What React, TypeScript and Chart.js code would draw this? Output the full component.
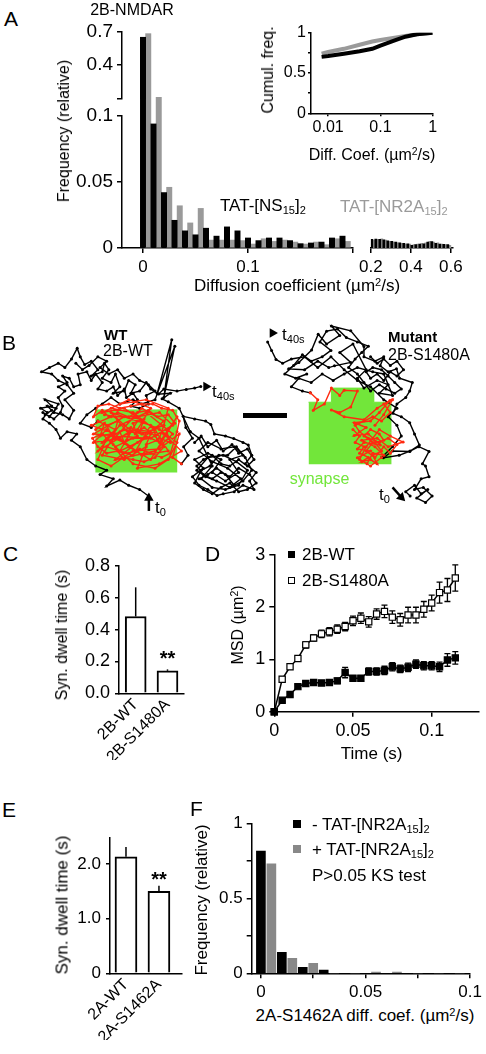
import React, { useEffect, useRef } from 'react';
import { Chart, registerables } from 'chart.js';

Chart.register(...registerables);
const FONT = "'Liberation Sans', Arial, Helvetica, sans-serif";
Chart.defaults.font.family = FONT;
Chart.defaults.font.size = 16;
Chart.defaults.color = '#000';

const BLACK = '#000000';
const GRAY_A = '#9a9a9a';
const GRAY_F = '#888888';
const GREEN = '#72e63a';
const RED = '#ff2a10';

// ---------------- Panel A : histogram of diffusion coefficients ----------------
const aBins = [0, 0.01, 0.02, 0.03, 0.04, 0.05, 0.06, 0.07, 0.08, 0.09, 0.1, 0.11, 0.12, 0.13, 0.14, 0.15, 0.16, 0.17, 0.18, 0.19];
const aNS15 = [0.648, 0.094, 0.042, 0.021, 0.013, 0.01, 0.015, 0.009, 0.016, 0.013, 0.0076, 0.0056, 0.0076, 0.0076, 0.0056, 0.0033, 0.0038, 0.0045, 0.0076, 0.009];
const aNR2A = [0.68, 0.115, 0.046, 0.032, 0.019, 0.03, 0.006, 0.006, 0.006, 0.0056, 0.003, 0.007, 0.005, 0.006, 0.0045, 0.003, 0.0045, 0.0025, 0.007, 0.005];
const aTailBins = [0.2, 0.22, 0.24, 0.26, 0.28, 0.3, 0.32, 0.34, 0.36, 0.38, 0.4, 0.42, 0.44, 0.46, 0.48, 0.5, 0.52, 0.54, 0.56, 0.58];
const aTailNS15 = [0.0066, 0.0068, 0.0066, 0.0062, 0.0055, 0.005, 0.0045, 0.004, 0.0035, 0.0032, 0.002, 0.0025, 0.003, 0.0032, 0.0045, 0.0048, 0.0035, 0.003, 0.0028, 0.0025];
const aTailNR2A = [0.006, 0.0065, 0.007, 0.006, 0.005, 0.0045, 0.004, 0.0035, 0.003, 0.003, 0.0025, 0.003, 0.0035, 0.004, 0.005, 0.0045, 0.004, 0.003, 0.0025, 0.002];
const aYUpperTicks = [0.1, 0.4, 0.7];
const aYLowerTicks = [0, 0.05, 0.1];
const aXTicks = [0, 0.1, 0.2];
const aXTailTicks = [0.2, 0.4, 0.6];

// inset: cumulative frequency
const cumX = [0.0075, 0.01, 0.02, 0.04, 0.07, 0.1, 0.2, 0.3, 0.5, 1];
const cumNS15 = [0.7, 0.71, 0.74, 0.77, 0.8, 0.84, 0.91, 0.95, 0.98, 1.0];
const cumNR2A = [0.74, 0.76, 0.8, 0.85, 0.89, 0.91, 0.94, 0.96, 0.98, 1.0];

// ---------------- Panel B : trajectories (µm) ----------------
const wtPathStart = [[3.25, 4.45], [3.05, 4.3], [2.8, 4.2], [2.6, 4.08], [2.3, 4.22], [2.45, 4.05], [2.15, 3.95], [2.3, 3.85], [2.05, 3.75], [1.85, 3.6], [1.7, 3.3], [1.5, 3.15], [1.62, 3.0], [1.4, 2.95], [1.25, 3.1], [1.15, 2.9], [1.0, 2.75], [0.85, 2.65], [0.95, 2.5], [0.8, 2.4], [1.05, 2.35], [0.9, 2.2], [1.2, 2.3], [1.1, 2.5], [1.3, 2.55], [1.45, 2.65], [1.55, 2.45], [1.35, 2.2], [1.55, 2.05], [1.4, 1.85], [1.2, 1.75], [1.05, 1.6], [0.82, 1.55], [1.0, 1.45], [1.2, 1.35], [1.35, 1.45], [1.5, 1.25], [1.63, 1.0], [1.7, 1.2], [1.8, 1.38], [1.95, 1.3], [2.1, 1.5], [1.95, 1.65], [2.2, 1.55], [2.25, 1.35], [2.35, 1.5], [2.2, 1.7], [2.4, 1.8], [2.5, 1.6], [2.6, 1.9], [2.45, 2.05], [2.7, 2.0], [2.8, 1.75], [2.95, 1.85], [2.85, 2.05], [3.05, 2.0], [3.2, 1.8], [3.3, 1.95], [3.45, 2.05], [3.78, 0.8], [3.6, 2.15], [3.85, 0.95], [3.4, 2.2], [3.1, 2.3], [2.9, 2.2], [2.6, 2.3], [2.4, 2.15], [2.2, 2.3], [2.05, 2.4], [1.85, 2.55], [1.7, 2.75], [1.95, 2.85], [2.1, 2.7]];
const wtPathUpper = [[0.9, 2.55], [1.05, 2.45], [0.95, 2.35], [1.15, 2.4], [1.0, 2.6], [0.85, 2.5], [1.1, 2.65], [1.25, 2.5], [1.3, 2.35], [1.2, 2.15], [1.35, 2.0], [1.2, 1.9], [1.4, 1.8], [1.3, 1.65], [1.45, 1.7], [1.55, 1.9], [1.7, 1.85], [1.65, 1.6], [1.85, 1.55], [1.95, 1.75], [2.05, 1.6], [2.2, 1.8], [2.1, 1.95], [2.3, 2.0], [2.45, 1.9], [2.55, 2.1], [2.7, 1.95], [2.75, 2.15], [2.9, 2.05], [3.0, 2.2], [2.85, 2.35], [3.05, 2.4], [3.25, 2.3], [3.2, 2.1], [3.4, 2.0], [3.25, 1.85], [3.05, 1.75], [2.9, 1.6], [2.7, 1.7], [2.55, 1.5], [2.35, 1.6], [2.15, 1.45], [2.3, 1.3], [2.1, 1.2], [1.9, 1.4], [1.75, 1.5], [1.6, 1.35]];
const wtPathSynapse = [[2.1, 2.7], [2.5, 2.9], [2.2, 3.2], [2.8, 3.0], [2.4, 2.5], [3.0, 2.7], [2.6, 3.4], [3.2, 3.1], [2.0, 3.0], [2.7, 2.6], [3.3, 2.8], [2.9, 3.5], [2.3, 3.3], [3.1, 2.4], [3.6, 2.7], [3.0, 3.2], [2.5, 3.6], [3.4, 3.4], [3.8, 3.0], [3.2, 2.5], [2.6, 2.8], [2.1, 3.4], [2.9, 2.9], [3.5, 3.2], [3.9, 2.6], [3.3, 3.6], [2.8, 3.3], [2.3, 2.9], [2.0, 3.2], [2.6, 3.1], [3.1, 3.5], [3.7, 3.4], [3.4, 2.9], [2.9, 2.5], [2.4, 2.4], [2.8, 2.2], [3.3, 2.4], [3.0, 2.9], [3.6, 3.0], [4.0, 3.4], [3.5, 3.7], [3.0, 3.8], [3.2, 3.3], [2.7, 3.6], [2.2, 3.5], [2.5, 3.0], [1.95, 2.8], [2.4, 2.6], [3.0, 2.6], [3.5, 2.5], [3.8, 2.8], [3.3, 3.1], [2.9, 3.1], [2.5, 3.3], [2.9, 3.7], [3.4, 3.8], [3.7, 3.6], [3.9, 3.2], [3.5, 2.9], [3.1, 2.7], [2.7, 2.4], [2.2, 2.5], [2.6, 2.3], [3.2, 2.2], [3.7, 2.4], [3.6, 2.8], [3.1, 3.0], [2.7, 2.9], [2.3, 3.1], [2.1, 3.6], [2.4, 3.75], [2.9, 3.4], [3.5, 3.35], [3.95, 3.0], [3.8, 3.55], [4.0, 3.7]];
const wtPathSynapse2 = [[2.05, 2.9], [2.25, 2.75], [2.15, 3.05], [2.4, 3.0], [2.3, 2.8], [2.55, 2.7], [2.45, 3.1], [2.7, 3.2], [2.6, 2.95], [2.85, 2.85], [2.75, 3.15], [3.0, 3.05], [2.9, 2.75], [3.15, 2.65], [3.05, 2.95], [3.3, 3.0], [3.2, 3.25], [3.45, 3.15], [3.35, 2.85], [3.6, 2.8], [3.5, 3.1], [3.75, 3.2], [3.65, 2.9], [3.85, 2.75], [3.7, 2.55], [3.45, 2.6], [3.25, 2.45], [3.0, 2.5], [2.8, 2.6], [2.55, 2.5], [2.35, 2.6], [2.2, 2.45], [2.0, 2.6], [2.1, 2.35], [2.35, 2.3], [2.6, 2.4], [2.85, 2.35], [3.1, 2.3], [3.35, 2.3], [3.55, 2.4], [3.8, 2.45], [3.95, 2.7], [3.9, 2.95], [3.75, 3.45], [3.55, 3.55], [3.3, 3.45], [3.05, 3.35], [2.8, 3.45], [2.55, 3.4], [2.3, 3.45], [2.1, 3.3], [1.98, 3.1], [2.2, 3.0], [2.45, 3.25], [2.65, 3.55], [2.9, 3.6], [3.15, 3.65], [3.4, 3.55], [3.6, 3.3], [3.4, 3.05], [3.15, 2.85], [2.95, 3.0], [2.7, 2.8], [2.5, 2.6], [2.25, 2.55]];
const wtPathCluster = [[4.0, 3.7], [4.15, 3.5], [4.05, 3.3], [4.25, 3.1], [4.1, 2.85], [4.04, 2.59], [4.3, 2.65], [4.55, 2.7], [4.67, 2.78], [4.75, 3.0], [5.0, 3.05], [5.19, 3.11], [5.4, 3.2], [5.52, 3.26], [5.6, 3.5], [5.45, 3.7], [5.7, 3.9], [5.55, 4.1], [5.65, 4.3], [5.4, 4.2], [5.2, 4.35], [4.95, 4.4], [4.81, 4.44], [4.6, 4.3], [4.4, 4.2], [4.25, 4.0], [4.5, 3.8], [4.3, 3.6], [4.6, 3.45], [4.9, 3.6], [4.7, 3.9], [5.0, 4.1], [5.3, 3.9], [5.1, 3.6], [5.4, 3.5], [5.2, 3.3], [4.9, 3.35], [4.6, 3.2], [4.4, 3.4], [4.7, 3.65], [5.05, 3.8], [5.35, 4.05], [5.1, 4.25], [4.8, 4.1], [4.55, 4.0], [4.35, 3.85], [4.6, 3.55], [4.95, 3.5], [5.25, 3.65], [5.5, 3.85], [5.3, 4.2], [5.0, 4.3], [4.7, 4.25], [4.45, 4.05], [4.7, 3.75], [4.4, 3.1], [4.2, 2.95]];
const wtPathCluster2 = [[4.3, 3.2], [4.45, 3.05], [4.6, 3.3], [4.8, 3.15], [4.95, 3.4], [5.15, 3.25], [5.3, 3.45], [5.5, 3.35], [5.65, 3.6], [5.5, 3.75], [5.3, 3.6], [5.1, 3.75], [4.9, 3.7], [4.7, 3.5], [4.5, 3.6], [4.35, 3.75], [4.5, 3.95], [4.7, 4.05], [4.9, 3.9], [5.1, 4.0], [5.3, 3.8], [5.55, 3.95], [5.7, 4.15], [5.5, 4.3], [5.3, 4.35], [5.1, 4.15], [4.9, 4.25], [4.7, 4.4], [4.5, 4.3], [4.3, 4.15], [4.45, 3.85], [4.65, 3.75], [4.85, 3.5], [5.05, 3.5], [5.25, 3.3], [5.45, 3.55], [5.6, 3.85], [5.4, 4.1], [5.2, 4.2], [5.0, 3.95], [4.8, 3.8], [4.6, 3.95], [4.4, 4.05]];
const wtPathEnd = [[4.2, 2.95], [3.95, 2.4], [3.7, 2.25], [3.56, 2.18], [3.75, 2.05], [3.48, 2.07], [3.6, 1.95], [3.9, 2.0], [4.11, 1.96], [4.3, 1.93], [4.44, 1.89]];
const mutPathStart = [[9.2, 4.45], [9.1, 4.35], [9.3, 4.2], [9.45, 4.4], [9.6, 4.3], [9.35, 4.5], [9.55, 4.6], [9.7, 4.45], [9.5, 4.25], [9.3, 4.3], [9.45, 4.05], [9.63, 4.0], [9.55, 3.75], [9.48, 3.7], [9.63, 3.41], [9.4, 3.3], [9.2, 3.4], [8.95, 3.5], [8.59, 3.56], [8.8, 3.4], [9.19, 3.41], [9.41, 3.26], [9.3, 3.0], [9.19, 2.74], [9.0, 2.6], [8.81, 2.52], [8.9, 2.3], [9.1, 2.15], [9.19, 2.0], [9.25, 1.8], [8.96, 1.7], [8.89, 1.48], [8.7, 1.55], [8.52, 1.41], [8.6, 1.2], [8.4, 1.3], [8.15, 1.2], [8.15, 0.96], [7.85, 0.59], [7.41, 0.48], [7.6, 0.7], [7.3, 0.9], [7.11, 0.67], [6.96, 1.04], [6.67, 1.33], [6.44, 1.48], [6.8, 1.5], [7.1, 1.3], [7.35, 1.45], [7.48, 1.41], [7.85, 1.33], [7.6, 1.1], [7.9, 0.9], [8.2, 1.5], [8.0, 1.7], [8.15, 1.93], [8.45, 1.75], [8.7, 1.85], [8.5, 2.05], [8.8, 2.1], [8.6, 1.6], [8.35, 1.55], [8.0, 1.45], [7.7, 1.6], [7.45, 1.75], [7.2, 1.6], [6.95, 1.8], [6.67, 1.7], [6.5, 1.9], [6.75, 2.0], [6.93, 2.04]];
const mutPathUpper = [[8.3, 1.2], [8.45, 1.35], [8.6, 1.25], [8.75, 1.4], [8.9, 1.3], [9.05, 1.5], [8.9, 1.65], [8.75, 1.55], [8.6, 1.75], [8.45, 1.6], [8.3, 1.7], [8.2, 1.55], [8.35, 1.45], [8.55, 1.5], [8.7, 1.65], [8.85, 1.8], [9.0, 1.95], [8.85, 2.05], [8.65, 1.95], [8.5, 1.85], [8.3, 2.0], [8.15, 1.8], [8.0, 1.6], [7.8, 1.45], [7.95, 1.25], [8.1, 1.1], [8.25, 0.95], [8.0, 0.85], [7.75, 0.75], [7.55, 0.55], [7.3, 0.6], [7.15, 0.85], [7.4, 1.05], [7.2, 1.2], [6.95, 1.3], [6.75, 1.15], [6.55, 1.4], [6.35, 1.6], [6.6, 1.7], [6.85, 1.6]];
const mutPathSynapse = [[6.93, 2.04], [7.1, 2.2], [7.0, 2.45], [7.25, 2.3], [7.41, 1.93], [7.6, 2.1], [7.7, 1.98], [8.0, 2.0], [7.85, 2.37], [7.6, 2.5], [7.41, 2.44], [7.7, 2.6], [8.15, 2.67], [8.45, 2.4], [8.74, 2.22], [8.5, 2.5], [8.3, 2.7], [7.93, 2.74], [8.2, 2.85], [7.93, 3.04], [8.25, 3.0], [8.52, 3.26], [8.15, 3.2], [8.0, 3.35], [8.3, 3.4], [8.0, 3.56], [8.22, 3.7], [8.35, 3.45], [8.6, 3.5], [8.4, 3.3], [8.1, 3.15], [8.45, 3.1], [8.7, 3.3], [9.04, 3.19], [8.75, 3.05], [8.5, 2.9], [8.2, 3.3], [8.05, 3.6], [8.3, 3.75], [8.55, 3.55]];
const mutPathSynapse2 = [[7.9, 2.9], [8.05, 3.05], [7.95, 3.2], [8.15, 3.3], [8.05, 3.45], [8.25, 3.55], [8.1, 3.65], [8.3, 3.6], [8.45, 3.7], [8.35, 3.5], [8.55, 3.4], [8.4, 3.2], [8.6, 3.15], [8.5, 3.0], [8.3, 2.9], [8.15, 3.05], [8.35, 3.2], [8.2, 3.4], [8.4, 3.55], [8.6, 3.3], [8.75, 3.45], [8.9, 3.25], [8.7, 3.1], [8.5, 3.2], [8.25, 3.1], [8.05, 2.95], [7.95, 2.8], [8.15, 2.7], [8.35, 2.6], [8.55, 2.7], [8.75, 2.5], [8.6, 2.3], [8.8, 2.2], [8.6, 2.55], [8.4, 2.8]];
const mutPathEnd = [[8.55, 3.55], [8.8, 3.3], [9.0, 3.05], [8.9, 2.8], [8.7, 2.6], [8.9, 2.4], [8.6, 2.2], [8.3, 1.9], [8.0, 1.75], [7.7, 1.5], [7.4, 1.2], [7.1, 1.45], [6.8, 1.2], [6.5, 1.25], [6.3, 1.35], [6.15, 1.26], [6.05, 1.05], [5.96, 0.85]];
const wtSynapseTop = [[2.04, 2.44], [3.91, 2.44]];
const wtSynapseBottom = 3.9;
const mutSynapseTop = [[6.89, 2.26], [7.41, 2.26], [7.41, 1.93], [8.37, 1.93], [8.37, 2.26], [8.78, 2.26]];
const mutSynapseBottom = 3.71;
const wtEndMark = [4.56, 1.89];
const wtStartArrow = [[3.26, 4.8], [3.26, 4.5]];
const mutEndMark = [6.07, 0.64];
const mutStartArrow = [[8.8, 4.25], [9.0, 4.48]];
const scaleBar = [[5.4, 2.57], [6.4, 2.57]]; // 1 µm

// ---------------- Panel C ----------------
const cLabels = ['2B-WT', '2B-S1480A'];
const cValues = [0.482, 0.141];
const cErrors = [0.183, 0.009];
const cTicks = [0, 0.2, 0.4, 0.6, 0.8];

// ---------------- Panel D : MSD ----------------
const msdTime = [0, 0.005, 0.01, 0.015, 0.02, 0.025, 0.03, 0.035, 0.04, 0.045, 0.05, 0.055, 0.06, 0.065, 0.07, 0.075, 0.08, 0.085, 0.09, 0.095, 0.1, 0.105, 0.11, 0.115];
const msdWT = [0, 0.22, 0.33, 0.48, 0.54, 0.56, 0.55, 0.56, 0.59, 0.75, 0.64, 0.64, 0.77, 0.77, 0.79, 0.86, 0.82, 0.85, 0.91, 0.88, 0.88, 0.86, 0.99, 1.03];
const msdWTErr = [0, 0.03, 0.03, 0.04, 0.04, 0.04, 0.04, 0.04, 0.05, 0.1, 0.05, 0.05, 0.07, 0.07, 0.08, 0.08, 0.07, 0.08, 0.08, 0.08, 0.08, 0.09, 0.12, 0.12];
const msdMut = [0, 0.62, 0.86, 1.02, 1.28, 1.41, 1.49, 1.53, 1.58, 1.63, 1.74, 1.79, 1.72, 1.87, 1.92, 1.81, 1.76, 1.85, 1.85, 1.96, 2.08, 2.28, 2.33, 2.56];
const msdMutErr = [0, 0.04, 0.05, 0.05, 0.06, 0.06, 0.07, 0.08, 0.08, 0.08, 0.09, 0.1, 0.1, 0.1, 0.12, 0.12, 0.12, 0.15, 0.15, 0.15, 0.15, 0.2, 0.22, 0.25];

// ---------------- Panel E ----------------
const eLabels = ['2A-WT', '2A-S1462A'];
const eValues = [2.13, 1.5];
const eErrors = [0.18, 0.1];

// ---------------- Panel F ----------------
const fBins = [0, 0.01, 0.02, 0.03, 0.04, 0.05, 0.06, 0.07, 0.08, 0.09];
const fMinus = [0.815, 0.14, 0.04, 0.022, 0, 0, 0, 0, 0, 0];
const fPlus = [0.73, 0.1, 0.067, 0, 0, 0.008, 0.008, 0, 0, 0];

// ---------------- helpers ----------------
type Box = [number, number, number, number];
type Area = [number, number, number, number];

function lay(box: Box, area: Area, hasY: boolean, hasX: boolean) {
  const [cx, cy, cw, ch] = box;
  const [L, T, R, B] = area;
  return {
    padding: { left: hasY ? 0 : L - cx, top: T - cy, right: cx + cw - R, bottom: hasX ? 0 : cy + ch - B },
    yW: L - cx,
    xH: cy + ch - B,
  };
}

function axis(o: any) {
  const s: any = {
    type: o.type || 'linear',
    min: o.min,
    max: o.max,
    display: true,
    offset: false,
    afterFit: (sc: any) => {
      if (o.horizontal) sc.height = o.fit;
      else sc.width = o.fit;
    },
    afterBuildTicks: (sc: any) => {
      sc.ticks = o.ticks.map((v: number) => ({ value: v }));
    },
    ticks: {
      autoSkip: false,
      callback: (_v: any, i: number) => o.labels[i],
      font: { size: o.size || 16, family: FONT },
      color: BLACK,
      padding: o.pad ?? 4,
      maxRotation: o.rot || 0,
      minRotation: o.rot || 0,
    },
    grid: {
      display: true,
      offset: false,
      drawOnChartArea: false,
      drawTicks: (o.tick ?? 5) > 0,
      tickLength: o.tick ?? 5,
      color: BLACK,
      lineWidth: 1.5,
    },
    border: { display: true, color: BLACK, width: 1.5 },
  };
  return s;
}

function hiddenAxis(min: number, max: number, reverse = false) {
  return { type: 'linear', min, max, reverse, display: false, offset: false, grid: { offset: false } };
}

function baseOptions(padding: any, scales: any) {
  return {
    responsive: false,
    maintainAspectRatio: false,
    animation: false,
    devicePixelRatio: 1,
    events: [],
    layout: { padding },
    plugins: { legend: { display: false }, tooltip: { enabled: false }, title: { display: false } },
    scales,
  };
}

function drawErrors(chart: any, when: string) {
  const ctx = chart.ctx;
  chart.data.datasets.forEach((ds: any, i: number) => {
    if (!ds.errors || (ds.errWhen || 'after') !== when) return;
    const meta = chart.getDatasetMeta(i);
    const ys = chart.scales[meta.yAxisID];
    ctx.save();
    ctx.strokeStyle = BLACK;
    ctx.lineWidth = ds.errWidth || 1.5;
    meta.data.forEach((el: any, j: number) => {
      const e = ds.errors[j];
      if (!e) return;
      const raw = ds.data[j];
      const v = typeof raw === 'number' ? raw : raw.y;
      const top = ys.getPixelForValue(v + e);
      const bot = ds.errUpOnly ? el.y : ys.getPixelForValue(v - e);
      const c = ds.errCap || 0;
      ctx.beginPath();
      ctx.moveTo(el.x, bot);
      ctx.lineTo(el.x, top);
      if (c) {
        ctx.moveTo(el.x - c, top);
        ctx.lineTo(el.x + c, top);
        if (!ds.errUpOnly) {
          ctx.moveTo(el.x - c, bot);
          ctx.lineTo(el.x + c, bot);
        }
      }
      ctx.stroke();
    });
    ctx.restore();
  });
}

const errorBarPlugin = {
  id: 'errorBarsCustom',
  beforeDatasetsDraw(chart: any) {
    drawErrors(chart, 'before');
  },
  afterDatasetsDraw(chart: any) {
    drawErrors(chart, 'after');
  },
};

function histDs(xs: number[], ys: number[], offset: number, color: string, thick: number) {
  return {
    type: 'bar',
    data: xs.map((x, i) => ({ x: x + offset, y: ys[i] })),
    backgroundColor: color,
    borderWidth: 0,
    barThickness: thick,
    grouped: false,
    clip: { left: 0, right: 0, top: false, bottom: 0 },
  };
}

function pathDs(pts: number[][], color: string, order: number) {
  return {
    type: 'line',
    data: pts.map((p) => ({ x: p[0], y: p[1] })),
    borderColor: color,
    backgroundColor: color,
    borderWidth: 1.4,
    pointRadius: 1.5,
    pointBackgroundColor: color,
    pointBorderWidth: 0,
    tension: 0,
    fill: false,
    order,
    clip: false,
  };
}

function areaDs(pts: number[][], bottom: number) {
  return {
    type: 'line',
    data: pts.map((p) => ({ x: p[0], y: p[1] })),
    borderColor: GREEN,
    borderWidth: 1,
    backgroundColor: GREEN,
    pointRadius: 0,
    tension: 0,
    fill: { value: bottom },
    order: 10,
  };
}

function markDs(pt: number[], rot: number) {
  return {
    type: 'line',
    data: [{ x: pt[0], y: pt[1] }],
    showLine: false,
    pointStyle: 'triangle',
    pointRotation: rot,
    pointRadius: 5.5,
    pointBackgroundColor: BLACK,
    pointBorderColor: BLACK,
    pointBorderWidth: 0,
    order: 0,
    clip: false,
  };
}

function segDs(pts: number[][], width: number) {
  return {
    type: 'line',
    data: pts.map((p) => ({ x: p[0], y: p[1] })),
    borderColor: BLACK,
    borderWidth: width,
    pointRadius: 0,
    tension: 0,
    fill: false,
    order: 0,
    clip: false,
  };
}

// ---------------- chart boxes (canvas position) and plot areas ----------------
const AU_BOX: Box = [50, 16, 315, 112];
const AU_AREA: Area = [122, 30, 353, 99];
const AL_BOX: Box = [50, 99, 315, 191];
const AL_AREA: Area = [122, 116, 353, 248];
const AT_BOX: Box = [355, 99, 115, 191];
const AT_AREA: Area = [368.3, 116, 452.8, 248];
const AI_BOX: Box = [268, 18, 182, 122];
const AI_AREA: Area = [311, 32.7, 432.7, 113.3];
const B_BOX: Box = [0, 300, 486, 225];
const C_BOX: Box = [60, 550, 140, 210];
const C_AREA: Area = [119, 565, 183.3, 693.3];
const D_BOX: Box = [240, 540, 246, 205];
const D_AREA: Area = [274.3, 555, 478.9, 711.7];
const E_BOX: Box = [50, 822, 150, 218];
const E_AREA: Area = [110, 837.7, 181.7, 973.3];
const F_BOX: Box = [215, 808, 271, 192];
const F_AREA: Area = [251.7, 823.3, 471.7, 973.3];

function aUpperConfig() {
  const l = lay(AU_BOX, AU_AREA, true, false);
  return {
    type: 'bar',
    data: { datasets: [histDs(aBins, aNS15, 0, BLACK, 5.3), histDs(aBins, aNR2A, 0.005, GRAY_A, 5.3)] },
    options: baseOptions(l.padding, {
      x: hiddenAxis(-0.02, 0.2),
      y: axis({ min: 0.1, max: 0.7, ticks: aYUpperTicks, labels: ['', '0.4', '0.7'], fit: l.yW, size: 19 }),
    }),
  };
}

function aLowerConfig() {
  const l = lay(AL_BOX, AL_AREA, true, true);
  return {
    type: 'bar',
    data: { datasets: [histDs(aBins, aNS15, 0, BLACK, 5.3), histDs(aBins, aNR2A, 0.005, GRAY_A, 5.3)] },
    options: baseOptions(l.padding, {
      x: axis({ min: -0.02, max: 0.2, ticks: aXTicks, labels: ['0', '0.1', ''], fit: l.xH, horizontal: true, size: 17 }),
      y: axis({ min: 0, max: 0.1, ticks: aYLowerTicks, labels: ['0', '0.05', '0.1'], fit: l.yW, size: 19 }),
    }),
  };
}

function aTailConfig() {
  const l = lay(AT_BOX, AT_AREA, false, true);
  return {
    type: 'bar',
    data: { datasets: [histDs(aTailBins, aTailNS15, 0.005, BLACK, 2.1), histDs(aTailBins, aTailNR2A, 0.015, GRAY_A, 2.1)] },
    options: baseOptions(l.padding, {
      x: axis({ min: 0.2, max: 0.61, ticks: aXTailTicks, labels: ['0.2', '0.4', '0.6'], fit: l.xH, horizontal: true, size: 17 }),
      y: hiddenAxis(0, 0.1),
    }),
  };
}

function aInsetConfig() {
  const l = lay(AI_BOX, AI_AREA, true, true);
  const line = (ys: number[], color: string) => ({
    type: 'line',
    data: cumX.map((x, i) => ({ x, y: ys[i] })),
    borderColor: color,
    borderWidth: 4,
    pointRadius: 0,
    tension: 0,
    fill: false,
  });
  return {
    type: 'line',
    data: { datasets: [line(cumNS15, BLACK), line(cumNR2A, GRAY_A)] },
    options: baseOptions(l.padding, {
      x: axis({ type: 'logarithmic', min: 0.0047, max: 1, ticks: [0.01, 0.1, 1], labels: ['0.01', '0.1', '1'], fit: l.xH, horizontal: true, tick: 3, pad: 2, size: 16 }),
      y: axis({ min: 0, max: 1, ticks: [0, 0.25, 0.5, 0.75, 1], labels: ['0', '', '0.5', '', '1'], fit: l.yW, tick: 3, pad: 2, size: 16 }),
    }),
  };
}

function bConfig() {
  return {
    type: 'line',
    data: {
      datasets: [
        markDs(wtEndMark, 90),
        markDs([wtStartArrow[1][0], wtStartArrow[1][1]], 0),
        segDs(wtStartArrow, 2.5),
        markDs(mutEndMark, 90),
        markDs([mutStartArrow[1][0], mutStartArrow[1][1]], 135),
        segDs(mutStartArrow, 2.5),
        segDs(scaleBar, 5),
        pathDs(wtPathSynapse, RED, 1),
        pathDs(wtPathSynapse2, RED, 1),
        pathDs(mutPathSynapse, RED, 1),
        pathDs(mutPathSynapse2, RED, 1),
        pathDs(wtPathStart, BLACK, 2),
        pathDs(wtPathUpper, BLACK, 2),
        pathDs(wtPathCluster, BLACK, 2),
        pathDs(wtPathCluster2, BLACK, 2),
        pathDs(wtPathEnd, BLACK, 2),
        pathDs(mutPathStart, BLACK, 2),
        pathDs(mutPathUpper, BLACK, 2),
        pathDs(mutPathEnd, BLACK, 2),
        areaDs(wtSynapseTop, wtSynapseBottom),
        areaDs(mutSynapseTop, mutSynapseBottom),
      ],
    },
    options: baseOptions({ left: 0, top: 0, right: 0, bottom: 0 }, {
      x: hiddenAxis(0, 10.8),
      y: hiddenAxis(0, 5, true),
    }),
  };
}

function barPanelConfig(box: Box, area: Area, labels: string[], values: number[], errors: number[], xmin: number, xmax: number, ymax: number, yTicks: number[], yLabels: string[], thick: number, ySize: number) {
  const l = lay(box, area, true, true);
  return {
    type: 'bar',
    data: {
      datasets: [
        {
          type: 'bar',
          data: values.map((v, i) => ({ x: i + 1, y: v })),
          backgroundColor: '#ffffff',
          borderColor: BLACK,
          borderWidth: 2,
          borderSkipped: 'start',
          barThickness: thick,
          grouped: false,
          errors,
          errUpOnly: true,
          errWhen: 'after',
        },
      ],
    },
    options: baseOptions(l.padding, {
      x: axis({ min: xmin, max: xmax, ticks: [1, 2], labels, fit: l.xH, horizontal: true, rot: 45, tick: 0, pad: 2, size: 16 }),
      y: axis({ min: 0, max: ymax, ticks: yTicks, labels: yLabels, fit: l.yW, tick: 4, pad: 5, size: ySize }),
    }),
    plugins: [errorBarPlugin],
  };
}

function dConfig() {
  const l = lay(D_BOX, D_AREA, true, true);
  const series = (ys: number[], errs: number[], fillColor: string) => ({
    type: 'line',
    data: msdTime.map((t, i) => ({ x: t, y: ys[i] })),
    borderColor: BLACK,
    borderWidth: 1.5,
    pointStyle: 'rect',
    pointRadius: 4.4,
    pointBackgroundColor: fillColor,
    pointBorderColor: BLACK,
    pointBorderWidth: 1.2,
    tension: 0,
    fill: false,
    clip: false,
    errors: errs,
    errCap: 3,
    errWidth: 1.3,
    errWhen: 'before',
  });
  return {
    type: 'line',
    data: { datasets: [series(msdWT, msdWTErr, BLACK), series(msdMut, msdMutErr, '#ffffff')] },
    options: baseOptions(l.padding, {
      x: axis({ min: 0, max: 0.13, ticks: [0, 0.05, 0.1], labels: ['0', '0.05', '0.1'], fit: l.xH, horizontal: true, size: 18 }),
      y: axis({ min: 0, max: 3, ticks: [0, 1, 2, 3], labels: ['0', '1', '2', '3'], fit: l.yW, size: 18 }),
    }),
    plugins: [errorBarPlugin],
  };
}

function fConfig() {
  const l = lay(F_BOX, F_AREA, true, true);
  return {
    type: 'bar',
    data: { datasets: [histDs(fBins, fMinus, 0, BLACK, 9), histDs(fBins, fPlus, 0.005, GRAY_F, 9)] },
    options: baseOptions(l.padding, {
      x: axis({ min: -0.0044, max: 0.1, ticks: [0, 0.025, 0.05, 0.075, 0.1], labels: ['0', '', '0.05', '', '0.1'], fit: l.xH, horizontal: true, size: 17 }),
      y: axis({ min: 0, max: 1, ticks: [0, 0.25, 0.5, 0.75, 1], labels: ['0', '', '0.5', '', '1'], fit: l.yW, size: 17 }),
    }),
  };
}

// ---------------- components ----------------
function ChartBox({ box, make }: { box: Box; make: () => any }) {
  const ref = useRef<HTMLCanvasElement>(null);
  useEffect(() => {
    const chart = new Chart(ref.current as HTMLCanvasElement, make());
    return () => chart.destroy();
  }, []);
  return (
    <canvas
      ref={ref}
      width={box[2]}
      height={box[3]}
      style={{ position: 'absolute', left: box[0], top: box[1], width: box[2], height: box[3] }}
    />
  );
}

const Sub = ({ children }: any) => (
  <span style={{ fontSize: '0.65em', position: 'relative', top: '0.3em' }}>{children}</span>
);
const Sup = ({ children }: any) => (
  <span style={{ fontSize: '0.65em', position: 'relative', top: '-0.45em' }}>{children}</span>
);

function Txt({ x, y, size = 16, a = 'l', rot = 0, bold = false, color = BLACK, children }: any) {
  const tx = a === 'c' ? '-50%' : a === 'r' ? '-100%' : '0%';
  return (
    <div
      style={{
        position: 'absolute',
        left: x,
        top: y,
        transform: `translate(${tx}, -50%)${rot ? ` rotate(${rot}deg)` : ''}`,
        fontSize: size,
        fontWeight: bold ? 'bold' : 'normal',
        color,
        whiteSpace: 'nowrap',
        lineHeight: 1,
        fontFamily: FONT,
      }}
    >
      {children}
    </div>
  );
}

function Square({ x, y, s, fill, border }: any) {
  return (
    <div
      style={{
        position: 'absolute',
        left: x,
        top: y,
        width: s,
        height: s,
        boxSizing: 'border-box',
        background: fill,
        border: border ? `1.3px solid ${BLACK}` : 'none',
      }}
    />
  );
}

export default function App() {
  return (
    <div style={{ position: 'absolute', left: 0, top: 0, width: 486, height: 1054, background: '#fff', overflow: 'hidden', fontFamily: FONT }}>
      {/* Panel A */}
      <ChartBox box={AU_BOX} make={aUpperConfig} />
      <ChartBox box={AL_BOX} make={aLowerConfig} />
      <ChartBox box={AT_BOX} make={aTailConfig} />
      <ChartBox box={AI_BOX} make={aInsetConfig} />
      <Txt x={4} y={18} size={21}>A</Txt>
      <Txt x={132} y={10} a="c" size={16}>2B-NMDAR</Txt>
      <Txt x={64} y={131} a="c" rot={-90} size={16}>Frequency (relative)</Txt>
      <Txt x={297} y={285} a="c" size={17}>Diffusion coefficient (µm<Sup>2</Sup>/s)</Txt>
      <Txt x={220} y={205} size={17}>TAT-[NS<Sub>15</Sub>]<Sub>2</Sub></Txt>
      <Txt x={340} y={206} size={17} color={GRAY_A}>TAT-[NR2A<Sub>15</Sub>]<Sub>2</Sub></Txt>
      <Txt x={268} y={70} a="c" rot={-90} size={16}>Cumul. freq.</Txt>
      <Txt x={372} y={155} a="c" size={16}>Diff. Coef. (µm<Sup>2</Sup>/s)</Txt>

      {/* Panel B */}
      <ChartBox box={B_BOX} make={bConfig} />
      <Txt x={2} y={342} size={21}>B</Txt>
      <Txt x={104} y={334} size={15} bold>WT</Txt>
      <Txt x={103} y={351} size={16}>2B-WT</Txt>
      <Txt x={212} y={391} size={17}>t<Sub>40s</Sub></Txt>
      <Txt x={155} y={507} size={17}>t<Sub>0</Sub></Txt>
      <Txt x={388} y={336} size={15} bold>Mutant</Txt>
      <Txt x={388} y={355} size={16}>2B-S1480A</Txt>
      <Txt x={282} y={334} size={17}>t<Sub>40s</Sub></Txt>
      <Txt x={379} y={494} size={17}>t<Sub>0</Sub></Txt>
      <Txt x={319.5} y={478.5} a="c" size={16} color={GREEN}>synapse</Txt>

      {/* Panel C */}
      <ChartBox box={C_BOX} make={() => barPanelConfig(C_BOX, C_AREA, cLabels, cValues, cErrors, 0.475, 2.497, 0.8, cTicks, ['0.0', '0.2', '0.4', '0.6', '0.8'], 21, 18)} />
      <Txt x={3} y={553} size={21}>C</Txt>
      <Txt x={62} y={635} a="c" rot={-90} size={16}>Syn. dwell time (s)</Txt>
      <Txt x={167.5} y={658} a="c" size={20} bold>**</Txt>

      {/* Panel D */}
      <ChartBox box={D_BOX} make={dConfig} />
      <Txt x={205} y={553} size={21}>D</Txt>
      <Txt x={238} y={625} a="c" rot={-90} size={16}>MSD (µm<Sup>2</Sup>)</Txt>
      <Square x={288} y={550.5} s={7} fill={BLACK} />
      <Txt x={302} y={554} size={17}>2B-WT</Txt>
      <Square x={288} y={576.5} s={7} fill="#fff" border />
      <Txt x={302} y={580} size={17}>2B-S1480A</Txt>
      <Txt x={371.7} y={753} a="c" size={17}>Time (s)</Txt>

      {/* Panel E */}
      <ChartBox box={E_BOX} make={() => barPanelConfig(E_BOX, E_AREA, eLabels, eValues, eErrors, 0.515, 2.69, 2.48, [0, 1, 2], ['0', '1.0', '2.0'], 22, 17)} />
      <Txt x={2} y={809} size={21}>E</Txt>
      <Txt x={62} y={905} a="c" rot={-90} size={17}>Syn. dwell time (s)</Txt>
      <Txt x={159} y={878.5} a="c" size={20} bold>**</Txt>

      {/* Panel F */}
      <ChartBox box={F_BOX} make={fConfig} />
      <Txt x={190} y={808} size={21}>F</Txt>
      <Txt x={201} y={900} a="c" rot={-90} size={17}>Frequency (relative)</Txt>
      <Square x={293} y={820} s={8} fill={BLACK} />
      <Txt x={312} y={824} size={17}>- TAT-[NR2A<Sub>15</Sub>]<Sub>2</Sub></Txt>
      <Square x={293} y={845} s={8} fill={GRAY_F} />
      <Txt x={312} y={849} size={17}>+ TAT-[NR2A<Sub>15</Sub>]<Sub>2</Sub></Txt>
      <Txt x={312} y={875} size={17}>P&gt;0.05 KS test</Txt>
      <Txt x={365} y={1015} a="c" size={17}>2A-S1462A diff. coef. (µm<Sup>2</Sup>/s)</Txt>
    </div>
  );
}
